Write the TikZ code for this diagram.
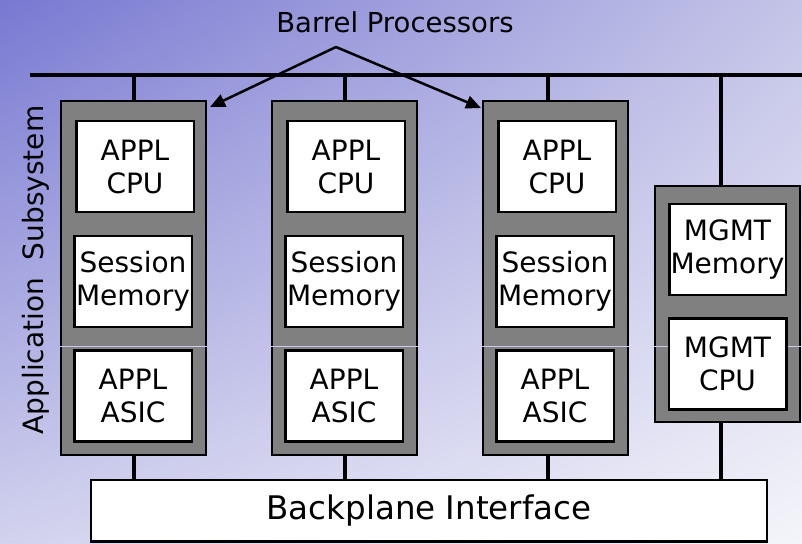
\documentclass[tikz,border=0pt]{standalone}
\usepackage{fontspec}
\setmainfont{DejaVu Sans}
\usepackage{xcolor}
\usetikzlibrary{arrows.meta,shadings}
\definecolor{bgtl}{HTML}{7878D2}
\definecolor{bgtr}{HTML}{C4C4E8}
\definecolor{bgbl}{HTML}{D2D2EE}
\definecolor{bgbr}{HTML}{F4F4FA}
\definecolor{slot}{HTML}{808080}
\definecolor{seam}{HTML}{CACAEE}
\tikzset{
  busln/.style={draw=black, line width=4pt},
  wire/.style={draw=black, line width=3.5pt},
  arr/.style={draw=black, line width=2.5pt, -{Triangle[length=15pt,width=13pt]}},
  card/.style={draw=black, fill=slot, line width=2pt, minimum width=145pt, inner sep=0pt},
  chip/.style={draw=black, fill=white, line width=2.5pt, minimum width=117.5pt, minimum height=91pt,
    inner sep=0pt, align=center, font=\fontsize{28}{33}\selectfont},
  seamln/.style={draw=seam, line width=1pt},
  lab/.style={text=black, inner sep=0pt, font=\fontsize{27.5}{33}\selectfont},
}

\begin{document}
\begin{tikzpicture}[x=1pt,y=-1pt]
  \useasboundingbox (0,0) rectangle (802,543);

  % background
  \shade[upper left=bgtl, upper right=bgtr, lower left=bgbl, lower right=bgbr]
    (0,0) rectangle (802,543);

  % bus
  \coordinate (busL) at (30,75);
  \coordinate (busR) at (802,75);
  \draw[busln] (busL) -- (busR);

  % application cards
  \foreach \i in {1,2,3}{
    \pgfmathsetmacro{\xl}{60+211*(\i-1)}
    \node[card, minimum height=354pt] (app\i) at (\xl+73.5,278) {};
    \draw[seamln] (app\i.west |- 0,346.5) -- (app\i.east |- 0,346.5);
    \node[chip] (cpu\i) at (\xl+75,166.5) {APPL\\CPU};
    \node[chip] (mem\i) at (\xl+73,281.5) {Session\\Memory};
    \node[chip] (asic\i) at (\xl+73,396) {APPL\\ASIC};
  }

  % management card
  \node[card, minimum height=236pt] (mgmt) at (727.5,304) {};
  \draw[seamln] (mgmt.west |- 0,346.5) -- (mgmt.east |- 0,346.5);
  \node[chip, minimum width=116.5pt] (mgmtmem) at (727.5,249.5) {MGMT\\Memory};
  \node[chip] (mgmtcpu) at (727.5,364) {MGMT\\CPU};

  % backplane
  \node[draw=black, fill=white, line width=2.5pt, minimum width=676pt, minimum height=61.5pt,
    inner sep=0pt, font=\fontsize{32.5}{39}\selectfont] (back) at (429,510.75) {Backplane Interface};

  % stubs to bus and backplane
  \foreach \n/\dx in {app1/0.5,app2/0.5,app3/-7.5,mgmt/-6.5}{
    \path ([xshift=\dx pt]\n.north) coordinate (top\n);
    \path ([xshift=\dx pt]\n.south) coordinate (bot\n);
    \draw[wire] (top\n) -- (top\n |- busL);
    \draw[wire] (bot\n) -- (bot\n |- back.north);
  }

  % labels
  \node[lab] (barrel) at (395,22) {Barrel Processors};
  \coordinate (fork) at (336,47);
  \draw[arr] (fork) -- ([xshift=3pt,yshift=-7pt]app1.north east);
  \draw[arr] (fork) -- ([xshift=-1pt,yshift=-8pt]app3.north west);
  \node[lab, rotate=90, font=\fontsize{28}{33}\selectfont] (appsys) at (36,270) {Application\ \ Subsystem};
\end{tikzpicture}
\end{document}
